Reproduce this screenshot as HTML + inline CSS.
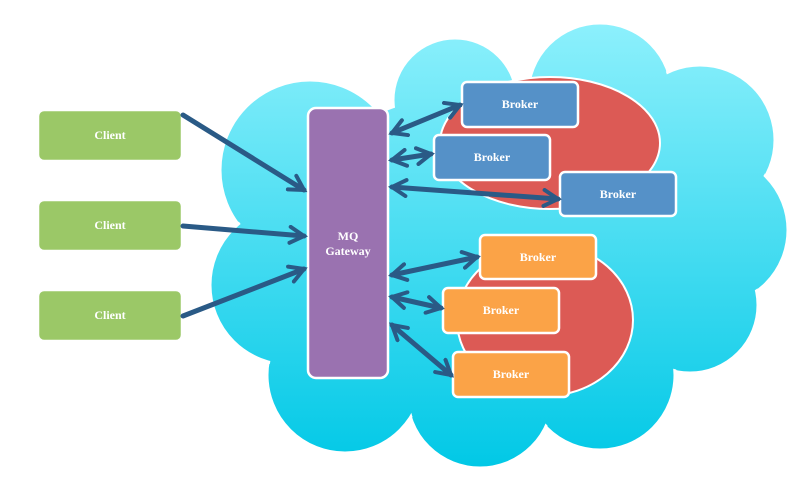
<!DOCTYPE html>
<html><head><style>body{margin:0;background:#fff}svg{display:block}</style></head><body>
<svg width="798" height="498" viewBox="0 0 798 498" xmlns="http://www.w3.org/2000/svg">
<defs>
<linearGradient id="g" gradientUnits="userSpaceOnUse" x1="0" y1="25" x2="0" y2="470"><stop offset="0" stop-color="#8cf0fc"/><stop offset="1" stop-color="#00c8e6"/></linearGradient>
<marker id="a" viewBox="0 0 10 10" refX="8" refY="5" markerWidth="4" markerHeight="4" orient="auto-start-reverse"><path d="M1,1 L8,5 L1,9" fill="none" stroke="#2a5a86" stroke-width="2" stroke-linecap="round"/></marker>
</defs>
<g fill="url(#g)" stroke="#fff" stroke-width="3">
<circle cx="310" cy="170" r="90"/><circle cx="455" cy="100" r="62"/><circle cx="600" cy="95" r="72"/><circle cx="700" cy="140" r="75"/><circle cx="712" cy="230" r="76"/><circle cx="690" cy="305" r="68"/><circle cx="600" cy="375" r="75"/><circle cx="480" cy="395" r="73"/><circle cx="345" cy="375" r="78"/><circle cx="290" cy="285" r="80"/>
</g>
<g fill="url(#g)"><circle cx="310" cy="170" r="88"/><circle cx="455" cy="100" r="60"/><circle cx="600" cy="95" r="70"/><circle cx="700" cy="140" r="73"/><circle cx="712" cy="230" r="74"/><circle cx="690" cy="305" r="66"/><circle cx="600" cy="375" r="73"/><circle cx="480" cy="395" r="71"/><circle cx="345" cy="375" r="76"/><circle cx="290" cy="285" r="78"/><ellipse cx="500" cy="250" rx="230" ry="160"/></g>
<ellipse cx="550" cy="143" rx="110" ry="66" fill="#dc5a55" stroke="#fff" stroke-width="2"/>
<ellipse cx="545" cy="320" rx="88" ry="76" fill="#dc5a55" stroke="#fff" stroke-width="2"/>
<g stroke="#fff" stroke-width="2.5">
<rect x="38" y="110" width="144" height="51" rx="6" fill="#9bc867"/>
<rect x="38" y="200" width="144" height="51" rx="6" fill="#9bc867"/>
<rect x="38" y="290" width="144" height="51" rx="6" fill="#9bc867"/>
<rect x="308" y="108" width="80" height="270" rx="8" fill="#9a72b0"/>
<rect x="462" y="82" width="116" height="45" rx="5" fill="#5591c8"/>
<rect x="434" y="135" width="116" height="45" rx="5" fill="#5591c8"/>
<rect x="560" y="172" width="116" height="44" rx="5" fill="#5591c8"/>
<rect x="480" y="235" width="116" height="44" rx="5" fill="#fba347"/>
<rect x="443" y="288" width="116" height="45" rx="5" fill="#fba347"/>
<rect x="453" y="352" width="116" height="45" rx="5" fill="#fba347"/>
</g>
<g font-family="Liberation Serif, serif" font-size="12" fill="#fff" text-anchor="middle" font-weight="bold">
<text x="110" y="139">Client</text><text x="110" y="229">Client</text><text x="110" y="319">Client</text>
<text x="348" y="240">MQ</text><text x="348" y="255">Gateway</text>
<text x="520" y="108">Broker</text><text x="492" y="161">Broker</text><text x="618" y="198">Broker</text>
<text x="538" y="261">Broker</text><text x="501" y="314">Broker</text><text x="511" y="378">Broker</text>
</g>
<g stroke="#2a5a86" stroke-width="5" fill="none" stroke-linecap="round">
<line x1="183" y1="115" x2="304" y2="190" marker-end="url(#a)"/>
<line x1="183" y1="226" x2="304" y2="236" marker-end="url(#a)"/>
<line x1="183" y1="316" x2="304" y2="269" marker-end="url(#a)"/>
<line x1="392" y1="133" x2="460" y2="105" marker-start="url(#a)" marker-end="url(#a)"/>
<line x1="392" y1="160" x2="431" y2="154" marker-start="url(#a)" marker-end="url(#a)"/>
<line x1="392" y1="187" x2="558" y2="199" marker-start="url(#a)" marker-end="url(#a)"/>
<line x1="392" y1="275" x2="477" y2="257" marker-start="url(#a)" marker-end="url(#a)"/>
<line x1="392" y1="297" x2="441" y2="308" marker-start="url(#a)" marker-end="url(#a)"/>
<line x1="392" y1="325" x2="451" y2="375" marker-start="url(#a)" marker-end="url(#a)"/>
</g>
</svg>
</body></html>
